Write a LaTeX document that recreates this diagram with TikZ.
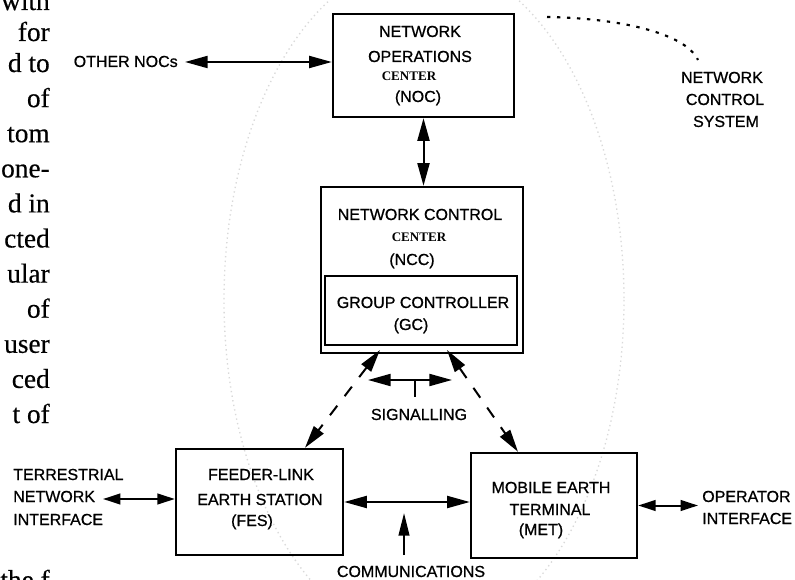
\documentclass[tikz,border=0pt]{standalone}
\usepackage{fontspec}
\setmainfont{Liberation Sans}[FakeBold=0.8]
\newfontfamily\serifT{Liberation Serif}
\newfontfamily\serifF{Liberation Serif}[FakeBold=0.4]
\usetikzlibrary{arrows.meta}
\tikzset{
  blk/.style={draw, line width=1.8pt, rectangle, inner sep=0pt},
  lbl/.style={anchor=base, inner sep=0pt, font=\fontsize{12}{14}\selectfont},
  lblw/.style={lbl, anchor=base west},
  ctrtxt/.style={anchor=base, inner sep=0pt, font=\serifT\bfseries\fontsize{9.8}{11}\selectfont},
  frag/.style={anchor=base east, inner sep=0pt, font=\serifF\fontsize{20.5}{21}\selectfont},
  dbl/.style={line width=1.5pt, {Triangle[length=17pt,width=9pt]}-{Triangle[length=17pt,width=9pt]}},
  dblsm/.style={line width=1.5pt, {Triangle[length=13pt,width=8pt]}-{Triangle[length=13pt,width=8pt]}},
  sgl/.style={line width=1.5pt, -{Triangle[length=17pt,width=8pt]}},
  dsh/.style={dbl, dash pattern=on 9pt off 9pt},
  dotcurve/.style={line width=1.6pt, dash pattern=on 2.5pt off 5pt},
  faint/.style={draw=gray!30, line width=1pt, dash pattern=on 1pt off 2.5pt}
}
\begin{document}
\begin{tikzpicture}[x=0.75pt,y=-0.75pt]
\useasboundingbox (0,0) rectangle (795,580);
\fill[white] (0,0) rectangle (795,580);
\begin{scope}
  \clip (0,0) rectangle (795,580);
  \draw[faint] (424,300) ellipse [x radius=200, y radius=340];
  \node[frag] (f1) at (50,10) {with};
  \node[frag] (f2) at (50,41) {for};
  \node[frag] (f3) at (50,72) {d to};
  \node[frag] (f4) at (50,107.1) {of};
  \node[frag] (f5) at (50,142.2) {tom};
  \node[frag] (f6) at (50,177.3) {one-};
  \node[frag] (f7) at (50,212.4) {d in};
  \node[frag] (f8) at (50,247.5) {cted};
  \node[frag] (f9) at (50,282.6) {ular};
  \node[frag] (f10) at (50,317.7) {of};
  \node[frag] (f11) at (50,352.8) {user};
  \node[frag] (f12) at (50,387.9) {ced};
  \node[frag] (f13) at (50,423) {t of};
  \node[frag] (f14) at (50,589) {the f};
\end{scope}

% boxes
\node[blk, minimum width=135.75pt, minimum height=77.25pt] (noc) at (423.5,65.5) {};
\node[blk, minimum width=151.5pt, minimum height=124.5pt] (ncc) at (422,270) {};
\node[blk, minimum width=144pt, minimum height=51.75pt] (gc) at (421,310.5) {};
\node[blk, minimum width=125.25pt, minimum height=79.5pt] (fes) at (259.5,502) {};
\node[blk, minimum width=124.5pt, minimum height=78.75pt] (met) at (554,505.5) {};

% box texts
\node[lbl] (noc1) at (420,37) {NETWORK};
\node[lbl] (noc2) at (420,62) {OPERATIONS};
\node[ctrtxt] (noc3) at (409,81) {CENTER};
\node[lbl] (noc4) at (418,102) {(NOC)};
\node[lbl] (ncc1) at (420,220) {NETWORK CONTROL};
\node[ctrtxt] (ncc2) at (419,242) {CENTER};
\node[lbl] (ncc3) at (412,265) {(NCC)};
\node[lbl] (gc1) at (423,308) {GROUP CONTROLLER};
\node[lbl] (gc2) at (411,330) {(GC)};
\node[lbl] (fes1) at (261,480) {FEEDER-LINK};
\node[lbl] (fes2) at (260,505) {EARTH STATION};
\node[lbl] (fes3) at (252,526) {(FES)};
\node[lbl] (met1) at (551,493) {MOBILE EARTH};
\node[lbl] (met2) at (550,515) {TERMINAL};
\node[lbl] (met3) at (541,535) {(MET)};

% outside labels
\node[lbl, anchor=base east] (other) at (178,67) {OTHER NOCs};
\node[lbl] (ncs1) at (722,83) {NETWORK};
\node[lbl] (ncs2) at (725,105) {CONTROL};
\node[lbl] (ncs3) at (726,127) {SYSTEM};
\node[lbl] (sig) at (419,420) {SIGNALLING};
\node[lbl] (comm) at (411,577) {COMMUNICATIONS};
\node[lblw] (ter1) at (13,480) {TERRESTRIAL};
\node[lblw] (ter2) at (13,502) {NETWORK};
\node[lblw] (ter3) at (13,525) {INTERFACE};
\node[lblw] (op1) at (702,502) {OPERATOR};
\node[lblw] (op2) at (702,524) {INTERFACE};

% coordinates
\coordinate (oth) at (185,62);
\coordinate (sl) at (380,350);
\coordinate (sr) at (447,350);
\coordinate (fl) at (305,449);
\coordinate (mr) at (518,453);
\coordinate (sgL) at (368,380);
\coordinate (sgR) at (452,380);
\coordinate (sgm) at (415,380);
\coordinate (sgb) at (415,397);
\coordinate (cmt) at (404,513);
\coordinate (cmb) at (404,555);
\coordinate (tl) at (103,499);
\coordinate (opr) at (698,505);
\coordinate (ds) at (547,17);
\coordinate (de) at (698,60);

% connectors
\draw[dbl] (oth) -- (oth -| noc.west);
\draw[dbl] (noc.south) -- (noc.south |- ncc.north);
\draw[dsh] (sl) -- (fl |- fes.north);
\draw[dsh] (sr) -- (mr |- met.north);
\draw[dbl] (sgL) -- (sgR);
\draw[line width=1.5pt] (sgm) -- (sgb);
\draw[dbl] (fes.east) -- (fes.east -| met.west);
\draw[sgl] (cmb) -- (cmt);
\draw[dblsm] (tl) -- (tl -| fes.west);
\draw[dblsm] (met.east) -- (met.east -| opr);
\draw[dotcurve] (ds) .. controls (615,18) and (685,32) .. (de);
\end{tikzpicture}
\end{document}
